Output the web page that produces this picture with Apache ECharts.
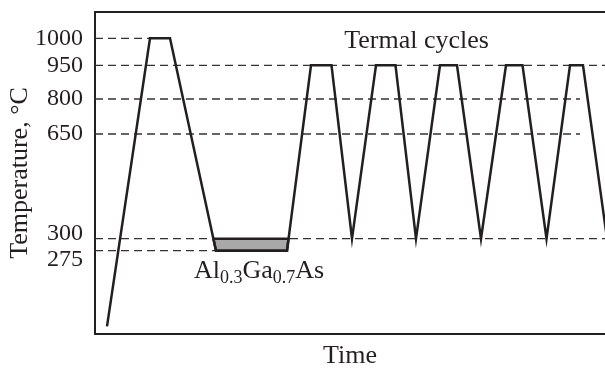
<!DOCTYPE html>
<html lang="en">
<head>
<meta charset="UTF-8">
<title>Termal cycles</title>
<script src="https://cdn.jsdelivr.net/npm/echarts@6/dist/echarts.min.js"></script>
</head>
<body style="margin:0;background:#fff">
<div id="main" style="width:605px;height:368px;"></div>
<script>
// temperature profile, time in arbitrary units, temperature in °C
var profileTime = [12, 55, 75, 121, 192, 216, 236.5, 257, 281, 300.5, 321, 345, 362, 386, 411, 427.5, 451.5, 475, 488, 512];
var profileTemp = [25, 1000, 1000, 275, 275, 950, 950, 300, 950, 950, 300, 950, 950, 300, 950, 950, 300, 950, 950, 300];

var tickTemps = [300, 650, 800, 950, 1000];
var lowTickTemps = [275];

// dashed guide lines: level and the time where each one stops
var guideTemps = [1000, 950, 800, 650, 300, 275];
var guideEnd = [55, 510, 485, 485, 510, 121];

// grown layer (hold at 275 °C)
var layerTime = [121, 192];
var layerTemp = [275, 300];

// the temperature axis of the sketch is not linear: piecewise scale
var scaleTemp = [0, 275, 300, 650, 800, 950, 1000, 1050];
var scaleLevel = [0, 83.3, 95.3, 200, 235, 268.7, 295.7, 322.7];

function level(t) {
    for (var i = 1; i < scaleTemp.length; i++) {
        if (t <= scaleTemp[i] || i == scaleTemp.length - 1) {
            var f = (t - scaleTemp[i - 1]) / (scaleTemp[i] - scaleTemp[i - 1]);
            return scaleLevel[i - 1] + f * (scaleLevel[i] - scaleLevel[i - 1]);
        }
    }
}

var ink = '#231f20';
var serif = '"Liberation Serif", "Times New Roman", serif';

var profile = profileTime.map(function (t, i) { return [t, level(profileTemp[i])]; });

// where the profile crosses a level between two profile points
function crossAt(i, lv) {
    var a = profile[i], b = profile[i + 1];
    return a[0] + (lv - a[1]) / (b[1] - a[1]) * (b[0] - a[0]);
}
var topLv = level(layerTemp[1]), botLv = level(layerTemp[0]);
var layerPoly = [
    [layerTime[0], botLv],
    [layerTime[1], botLv],
    [crossAt(4, topLv), topLv],
    [crossAt(2, topLv), topLv]
];

var guideSeries = guideTemps.map(function (t, i) {
    return {
        type: 'line',
        silent: true,
        symbol: 'none',
        z: 1,
        lineStyle: { color: '#333', width: 1.3, type: [8, 5] },
        data: [[0, level(t)], [guideEnd[i], level(t)]]
    };
});

// 300 and 275 sit close together, the sketch pushes their labels apart
var labelStyles = {
    n: { fontFamily: serif, fontSize: 24, color: ink },
    up: { fontFamily: serif, fontSize: 24, color: ink, padding: [0, 0, 10, 0] },
    down: { fontFamily: serif, fontSize: 24, color: ink, padding: [18, 0, 0, 0] }
};
function tempLabels(temps) {
    return {
        customValues: temps.map(level),
        hideOverlap: false,
        margin: 12,
        fontFamily: serif, fontSize: 24, color: ink,
        rich: labelStyles,
        formatter: function (v) {
            for (var i = 0; i < temps.length; i++) {
                if (Math.abs(level(temps[i]) - v) < 0.01) {
                    var t = temps[i];
                    var k = t == 300 ? 'up' : (t == 275 ? 'down' : 'n');
                    return '{' + k + '|' + t + '}';
                }
            }
            return '';
        }
    };
}

var chart = echarts.init(document.getElementById('main'));

var option = {
    animation: false,
    grid: { left: 95, right: 0, top: 12, bottom: 34, outerBoundsMode: 'none', containLabel: false },
    xAxis: [{
        type: 'value', min: 0, max: 510,
        name: 'Time', nameLocation: 'middle', nameGap: 9,
        nameTextStyle: { fontFamily: serif, fontSize: 26, color: ink, verticalAlign: 'top' },
        axisLine: { show: true, onZero: false, lineStyle: { color: ink, width: 2 } },
        axisTick: { show: false }, axisLabel: { show: false }, splitLine: { show: false }
    }, {
        type: 'value', min: 0, max: 510, position: 'top',
        axisLine: { show: true, onZero: false, lineStyle: { color: ink, width: 2 } },
        axisTick: { show: false }, axisLabel: { show: false }, splitLine: { show: false }
    }],
    yAxis: [{
        type: 'value', min: 0, max: 322,
        name: 'Temperature, °C', nameLocation: 'middle', nameGap: 62, nameMoveOverlap: false,
        nameTextStyle: { fontFamily: serif, fontSize: 26, color: ink },
        axisLine: { show: true, onZero: false, lineStyle: { color: ink, width: 2 } },
        axisTick: { show: false },
        splitLine: { show: false },
        axisLabel: tempLabels(tickTemps)
    }, {
        type: 'value', min: 0, max: 322, position: 'left', offset: 0,
        axisLine: { show: false, onZero: false },
        axisTick: { show: false },
        splitLine: { show: false },
        axisLabel: tempLabels(lowTickTemps)
    }],
    series: guideSeries.concat([{
        type: 'custom',
        silent: true,
        z: 2,
        renderItem: function (params, api) {
            return {
                type: 'polygon',
                shape: { points: layerPoly.map(function (p) { return api.coord(p); }) },
                style: { fill: '#a8a8a8', stroke: ink, lineWidth: 2.5 }
            };
        },
        data: [0]
    }, {
        type: 'line',
        silent: true,
        symbol: 'none',
        z: 3,
        lineStyle: { color: ink, width: 2.5, join: 'miter' },
        data: profile
    }, {
        type: 'scatter',
        silent: true,
        symbolSize: 0,
        z: 4,
        itemStyle: { opacity: 1 },
        label: {
            show: true, position: 'inside', align: 'center', verticalAlign: 'middle',
            fontFamily: serif, color: ink, opacity: 1,
            formatter: function (p) { return p.data[2]; },
            rich: {
                n: { fontFamily: serif, fontSize: 26, color: ink },
                s: { fontFamily: serif, fontSize: 18, color: ink, padding: [14, 0, 0, 0] }
            }
        },
        data: [
            [321.5, level(995), '{n|Termal cycles}'],
            [164, level(206), '{n|Al}{s|0.3}{n|Ga}{s|0.7}{n|As}']
        ]
    }])
};

chart.setOption(option);
</script>
</body>
</html>
